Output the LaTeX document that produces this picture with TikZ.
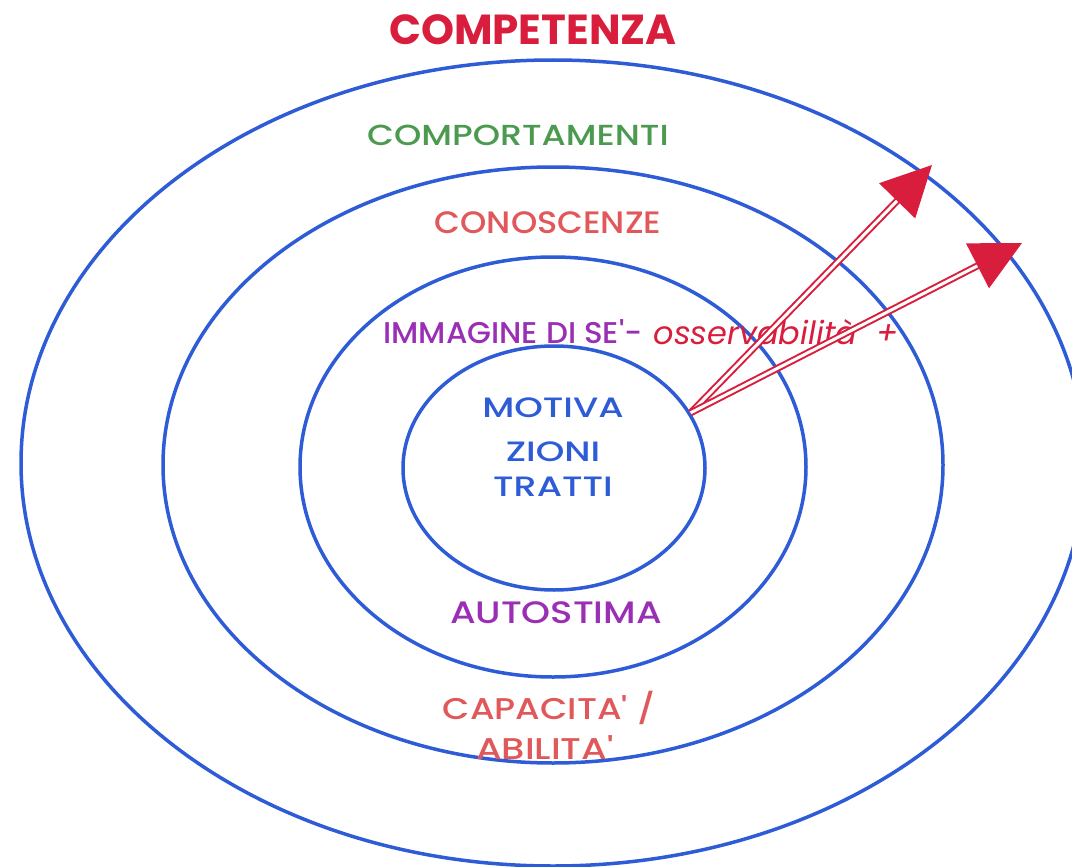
\documentclass[tikz,border=0pt]{standalone}
\usepackage{fontspec}
\setmainfont{Poppins}
\newfontfamily\labelfont{Poppins Medium}
\usetikzlibrary{
  arrows.meta,
  shapes.geometric,
  positioning
}
\definecolor{ringblue}{HTML}{2E5BD6}
\definecolor{titlered}{HTML}{D81E3C}
\definecolor{leafgreen}{HTML}{4C9A50}
\definecolor{coral}{HTML}{E0585A}
\definecolor{violet}{HTML}{9A2FB5}
% stretch a label sideways
\newcommand{\widen}[2]{\scalebox{#1}[1]{#2}}

\begin{document}
\begin{tikzpicture}[
      x=1pt,y=-1pt,
      ring/.style={
         ellipse,
         draw=ringblue,
         line width=3.5pt,
         inner sep=0pt
      },
      tag/.style={
         inner sep=0pt,
         font=\labelfont\fontsize{#1}{#1}\selectfont
      },
      title/.style={
         inner sep=0pt,
         font=\fontsize{#1}{#1}\selectfont\bfseries
      },
      remark/.style={
         inner sep=0pt,
         font=\fontsize{#1}{#1}\selectfont\itshape
      },
      riser/.style={
         draw=titlered,
         line width=2pt,
         double=white,
         double distance=3pt,
         -{Triangle[length=50pt,width=50pt]}
      }
    ]
    \useasboundingbox (0,0) rectangle (1072,867);
    % the four rings
    \node (e1) [ring, minimum width=1064pt, minimum height=806pt] at (553,463) {};
    \node (e2) [ring, minimum width=780pt, minimum height=596pt] at (553,465) {};
    \node (e3) [ring, minimum width=506pt, minimum height=420pt] at (553,467) {};
    \node (e4) [ring, minimum width=302pt, minimum height=244pt] at (554,468) {};
    % labels
    \node (competenza) [title=42, text=titlered] at (533,30) {COMPETENZA};
    \node (comportamenti) [tag=29, text=leafgreen] at (518,135) {\widen{1.2}{COMPORTAMENTI}};
    \node (conoscenze) [tag=31, text=coral] at (548,223) {\widen{1.08}{CONOSCENZE}};
    \node (immagine) [tag=30, text=violet] at (513,332) {\widen{1.03}{IMMAGINE DI SE'-}};
    \node (osserv) [remark=32, text=titlered] at (776,332) {osservabilità\ \ +};
    \node (motiva) [tag=28, text=ringblue] at (553,408) {\widen{1.3}{MOTIVA}};
    \node (zioni) [tag=28, text=ringblue] at (553,452) {\widen{1.3}{ZIONI}};
    \node (tratti) [tag=28, text=ringblue] at (553,487) {\widen{1.3}{TRATTI}};
    \node (autostima) [tag=31, text=violet] at (556,613) {\widen{1.19}{AUTOSTIMA}};
    \node (capacita) [tag=30, text=coral] at (549,708) {\widen{1.18}{CAPACITA' /}};
    \node (abilita) [tag=30, text=coral] at (545,748) {\widen{1.23}{ABILITA'}};
    % arrows
    \coordinate (tip1) at (932,165);
    \coordinate (tip2) at (1022,243);
    \draw [riser] (e4.22) -- (tip1);
    \draw [riser] (e4.22) -- (tip2);
\end{tikzpicture}
\end{document}
